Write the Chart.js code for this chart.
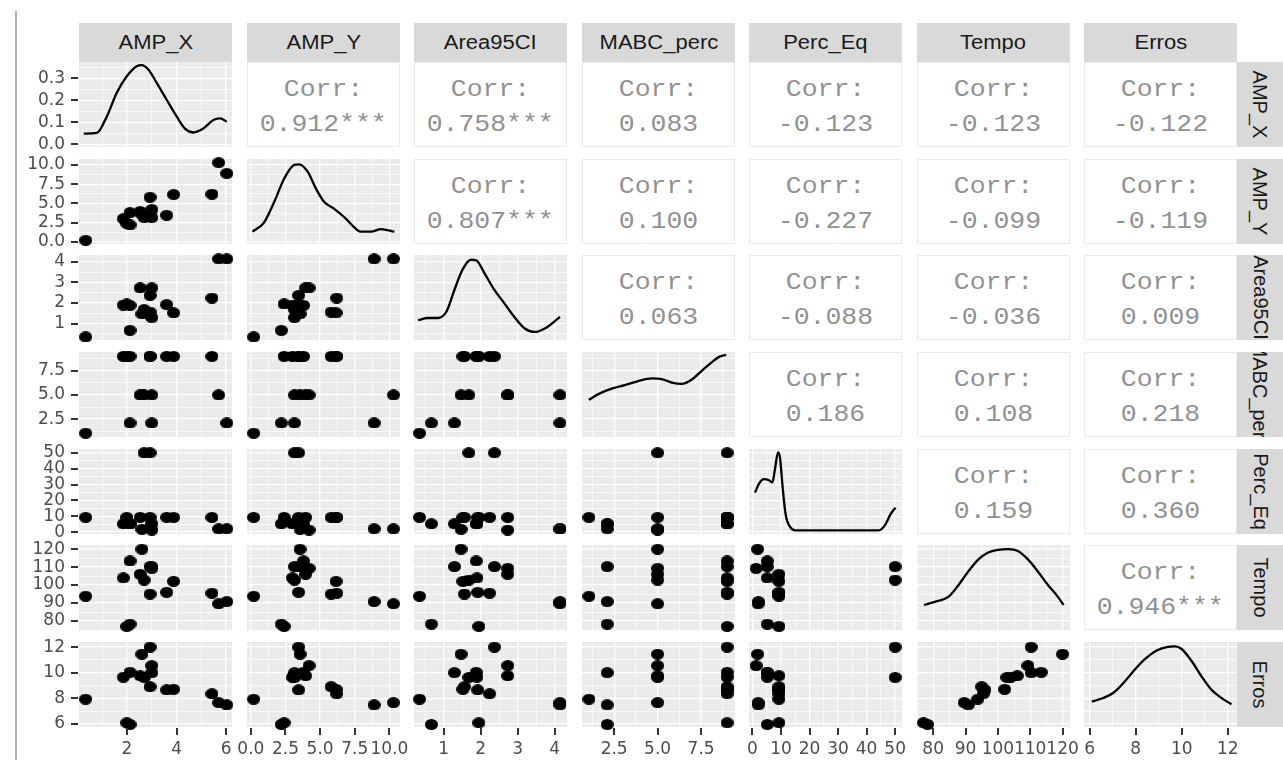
<!DOCTYPE html>
<html>
<head>
<meta charset="utf-8">
<title>ggpairs</title>
<script src="https://cdn.jsdelivr.net/npm/chart.js@4.4.1/dist/chart.umd.min.js"></script>
<style>
  html, body { margin: 0; padding: 0; background: #fff; }
  #wrap { position: relative; width: 1283px; height: 760px; overflow: hidden; }
  canvas { position: absolute; }
  .strip { position: absolute; background: #d9d9d9; color: #1a1a1a; font-family: "Liberation Sans", Arial, sans-serif;
           font-size: 20px; display: flex; align-items: center; justify-content: center; overflow: hidden; white-space: nowrap; }
  .strip span { display: inline-block; transform: scaleX(1.1); }
  .strip.side span { transform: rotate(90deg); }
  .corr { position: absolute; box-sizing: border-box; background: #fff; border: 1px solid #ebebeb; display: flex;
          flex-direction: column; align-items: center; justify-content: center; padding-top: 6px;
          font-family: "Liberation Mono", monospace; font-size: 23px; line-height: 35px; color: #919191; white-space: nowrap; }
  .corr span { display: block; transform: scaleX(1.15); }
  #edge { position: absolute; left: 15px; top: 11px; width: 2px; height: 760px; background: #b4b4b4; }
</style>
</head>
<body>
<div id="wrap"><div id="edge"></div></div>
<script>
const VARS = ["AMP_X", "AMP_Y", "Area95CI", "MABC_perc", "Perc_Eq", "Tempo", "Erros"];

// one value per subject
const AMP_X = [0.33, 2.12, 1.99, 1.85, 2.12, 2.53, 2.60, 2.69, 2.93, 2.93, 3.00, 3.00, 3.60, 3.88, 5.43, 5.70, 6.03];
const AMP_Y = [0.20, 2.20, 2.40, 3.00, 3.80, 3.95, 3.55, 3.15, 5.80, 3.45, 4.20, 3.15, 3.45, 6.15, 6.20, 10.30, 8.90];
const AREA = [0.35, 0.67, 1.95, 1.90, 1.88, 2.73, 1.47, 1.68, 1.56, 2.37, 2.73, 1.29, 1.92, 1.52, 2.24, 4.14, 4.14];
const MABC = [1.05, 2.1, 9.0, 9.0, 9.0, 5.0, 5.0, 5.0, 9.0, 9.0, 5.0, 2.1, 9.0, 9.0, 9.0, 5.0, 2.1];
const PERC = [9.3, 5.2, 9.3, 5.2, 5.2, 9.3, 1.8, 50.0, 9.3, 50.0, 1.3, 5.2, 9.3, 9.3, 9.3, 2.0, 2.1];
const TEMPO = [93.8, 78.3, 77.0, 104.0, 113.4, 106.0, 120.0, 102.8, 95.0, 110.3, 109.3, 110.3, 96.0, 102.1, 95.5, 89.6, 90.8];
const ERROS = [7.93, 5.95, 6.08, 9.65, 10.03, 9.76, 11.45, 9.63, 8.90, 12.00, 10.55, 10.00, 8.65, 8.70, 8.35, 7.66, 7.48];
const COLS = [AMP_X, AMP_Y, AREA, MABC, PERC, TEMPO, ERROS];

// density curves on the diagonal (y in the row's own units, first one in density units)
const D_AMP_X_X = [0.25, 0.78, 1.18, 1.58, 1.99, 2.39, 2.59, 2.86, 3.20, 3.60, 4.01, 4.34, 4.68, 5.08, 5.49, 5.76, 6.03];
const D_AMP_X_Y = [0.049, 0.052, 0.126, 0.234, 0.31, 0.356, 0.361, 0.341, 0.28, 0.203, 0.126, 0.072, 0.054, 0.072, 0.111, 0.118, 0.103];
const D_AMP_Y_X = [0.12, 0.96, 1.68, 2.41, 3.13, 3.49, 4.10, 4.70, 5.30, 6.02, 6.75, 7.47, 7.95, 8.68, 9.40, 10.36];
const D_AMP_Y_Y = [1.32, 2.54, 5.17, 8.24, 10.0, 10.08, 9.12, 6.92, 5.17, 4.29, 3.2, 1.88, 1.32, 1.32, 1.66, 1.32];
const D_AREA_X = [0.31, 0.57, 0.84, 1.07, 1.29, 1.51, 1.74, 1.88, 2.10, 2.37, 2.64, 2.91, 3.19, 3.46, 3.73, 4.14];
const D_AREA_Y = [1.16, 1.27, 1.27, 1.56, 2.63, 3.62, 4.10, 4.07, 3.45, 2.63, 1.98, 1.32, 0.76, 0.59, 0.76, 1.32];
const D_MABC_X = [1.04, 1.65, 2.40, 3.16, 3.92, 4.68, 5.24, 5.81, 6.38, 6.95, 7.52, 8.09, 8.56, 8.94];
const D_MABC_Y = [4.5, 5.14, 5.68, 6.04, 6.47, 6.72, 6.64, 6.29, 6.15, 6.58, 7.47, 8.36, 8.97, 9.15];
const D_PERC_X = [0.91, 2.31, 4.06, 5.8, 6.99, 7.9, 8.95, 9.65, 10.49, 11.64, 13.4, 15.14, 20.98, 32.62, 44.27, 46.61, 48.36, 50.1];
const D_PERC_Y = [24.9, 30.6, 33.4, 32.7, 31.3, 39.7, 50.3, 47.1, 30.2, 11.2, 2.78, 1.08, 1.08, 1.08, 1.08, 4.87, 11.2, 15.4];
const D_TEMPO_X = [77.15, 80.7, 84.8, 87.9, 90.9, 94.0, 97.0, 100.1, 103.2, 106.2, 109.3, 112.3, 115.4, 118.5, 120.3];
const D_TEMPO_Y = [88.9, 90.8, 93.6, 100.2, 107.7, 114.3, 118.1, 119.6, 120.0, 119.0, 114.3, 107.7, 100.2, 93.6, 88.9];
const D_ERROS_X = [6.09, 6.55, 7.05, 7.55, 7.98, 8.41, 8.91, 9.34, 9.70, 9.98, 10.41, 10.84, 11.27, 11.70, 12.16];
const D_ERROS_Y = [7.74, 8.0, 8.45, 9.37, 10.29, 11.08, 11.74, 12.0, 12.05, 11.87, 10.95, 9.76, 8.71, 8.05, 7.53];
const DENS = [[D_AMP_X_X, D_AMP_X_Y], [D_AMP_Y_X, D_AMP_Y_Y], [D_AREA_X, D_AREA_Y], [D_MABC_X, D_MABC_Y],
              [D_PERC_X, D_PERC_Y], [D_TEMPO_X, D_TEMPO_Y], [D_ERROS_X, D_ERROS_Y]];

// upper triangle texts, row by row
const CORR = [
  ["0.912***", "0.758***", "0.083", "-0.123", "-0.123", "-0.122"],
  ["0.807***", "0.100", "-0.227", "-0.099", "-0.119"],
  ["0.063", "-0.088", "-0.036", "0.009"],
  ["0.186", "0.108", "0.218"],
  ["0.159", "0.360"],
  ["0.946***"],
];

// axis ranges and breaks
const LIMITS = [[0.06, 6.24], [-0.28, 10.77], [0.2, 4.33], [0.65, 9.45], [-1.2, 52.4], [75.0, 122.3], [5.75, 12.4]];
const MAJOR = [[2, 4, 6], [0, 2.5, 5, 7.5, 10], [1, 2, 3, 4], [2.5, 5, 7.5], [0, 10, 20, 30, 40, 50],
               [80, 90, 100, 110, 120], [6, 8, 10, 12]];
const MINOR = [[1, 3, 5], [1.25, 3.75, 6.25, 8.75], [0.5, 1.5, 2.5, 3.5], [1.25, 3.75, 6.25, 8.75],
               [5, 15, 25, 35, 45], [75, 85, 95, 105, 115], [7, 9, 11]];
const DECIMALS = [0, 1, 0, 1, 0, 0, 0];
const DENS_LIMITS = [-0.012, 0.375];
const DENS_MAJOR = [0, 0.1, 0.2, 0.3];
const DENS_MINOR = [0.05, 0.15, 0.25, 0.35];

const X0 = 79, DX = 167.5, PW = 153;
const Y0 = 62, DY = 96.67, PH = 85;
const M = 26, AXW = 64, AXH = 40, TICK = 7;

Chart.defaults.animation = false;
Chart.defaults.responsive = false;
Chart.defaults.devicePixelRatio = 1;
Chart.defaults.plugins.legend.display = false;
Chart.defaults.plugins.tooltip.enabled = false;

const wrap = document.getElementById("wrap");
const px = i => Math.round(X0 + i * DX);
const py = i => Math.round(Y0 + i * DY);

const panelBg = {
  id: "panelBg",
  beforeDraw(chart) {
    const a = chart.chartArea, g = chart.ctx;
    g.save();
    g.fillStyle = "#ebebeb";
    g.fillRect(a.left, a.top, a.right - a.left, a.bottom - a.top);
    g.restore();
  }
};

// short dark tick marks outside the panel, on the labelled axes only
const tickMarks = {
  id: "tickMarks",
  afterDraw(chart) {
    const g = chart.ctx, a = chart.chartArea;
    const sx = chart.scales.x, sy = chart.scales.y;
    g.save();
    g.fillStyle = "#333333";
    if (sx.options.ticks.display) {
      sx.ticks.forEach(t => {
        const p = Math.round(sx.getPixelForValue(t.value));
        g.fillRect(p - 1, a.bottom + 1, 2, TICK);
      });
    }
    if (sy.options.ticks.display) {
      sy.ticks.forEach(t => {
        const p = Math.round(sy.getPixelForValue(t.value));
        g.fillRect(a.left - TICK - 1, p - 1, TICK, 2);
      });
    }
    g.restore();
  }
};

function dot(w, h) {
  const c = document.createElement("canvas");
  c.width = w; c.height = h;
  const g = c.getContext("2d");
  g.fillStyle = "#000";
  g.beginPath();
  g.ellipse(w / 2, h / 2, w / 2, h / 2, 0, 0, Math.PI * 2);
  g.fill();
  return c;
}
const DOT = dot(13, 11);

function majorScale(pos, lim, ticks, dec, labelled, size) {
  return {
    type: "linear", position: pos, bounds: "data", min: lim[0], max: lim[1],
    afterBuildTicks: s => { s.ticks = ticks.map(v => ({ value: v })); },
    afterFit: s => { if (pos === "left") s.width = labelled ? size : 0; else s.height = labelled ? size : 0; },
    border: { display: false },
    grid: { color: "#ffffff", lineWidth: 1.3, drawTicks: false },
    ticks: {
      display: labelled, autoSkip: false, maxRotation: 0, minRotation: 0,
      padding: pos === "left" ? TICK + 7 : TICK + 5, color: "#4d4d4d",
      font: { family: "DejaVu Sans", size: 17 },
      callback: v => Number(v).toFixed(dec)
    }
  };
}

function minorScale(pos, lim, ticks) {
  return {
    type: "linear", position: pos, bounds: "data", min: lim[0], max: lim[1],
    afterBuildTicks: s => { s.ticks = ticks.map(v => ({ value: v })); },
    afterFit: s => { if (pos === "left") s.width = 0; else s.height = 0; },
    border: { display: false },
    grid: { color: "#ffffff", lineWidth: 0.7, drawTicks: false },
    ticks: { display: false }
  };
}

function drawPanel(r, c) {
  const left = c === 0 ? AXW : M;
  const bottom = r === 6 ? AXH : M;
  const cv = document.createElement("canvas");
  cv.width = PW + left + M;
  cv.height = PH + M + bottom;
  cv.style.left = (px(c) - left) + "px";
  cv.style.top = (py(r) - M) + "px";
  wrap.appendChild(cv);

  const yDens = r === 0;
  const yLim = yDens ? DENS_LIMITS : LIMITS[r];
  const yMaj = yDens ? DENS_MAJOR : MAJOR[r];
  const yMin = yDens ? DENS_MINOR : MINOR[r];
  const yDec = yDens ? 1 : DECIMALS[r];

  let datasets;
  if (r === c) {
    const [xs, ys] = DENS[c];
    datasets = [{
      data: xs.map((x, i) => ({ x, y: ys[i] })),
      showLine: true, borderColor: "#000", borderWidth: 2.3, pointRadius: 0,
      cubicInterpolationMode: "monotone", fill: false, clip: 3
    }];
  } else {
    datasets = [{
      data: COLS[c].map((x, i) => ({ x, y: COLS[r][i] })),
      pointStyle: DOT, pointRadius: 6, backgroundColor: "#000", borderWidth: 0, clip: 4
    }];
  }

  new Chart(cv, {
    type: "scatter",
    data: { datasets },
    options: {
      layout: { padding: { left: c === 0 ? 0 : M, right: M, top: M, bottom: r === 6 ? 0 : M } },
      scales: {
        x: majorScale("bottom", LIMITS[c], MAJOR[c], DECIMALS[c], r === 6, AXH),
        x2: minorScale("bottom", LIMITS[c], MINOR[c]),
        y: majorScale("left", yLim, yMaj, yDec, c === 0, AXW),
        y2: minorScale("left", yLim, yMin)
      }
    },
    plugins: [panelBg, tickMarks]
  });
}

function addStrip(text, l, t, w, h, side) {
  const d = document.createElement("div");
  d.className = side ? "strip side" : "strip";
  Object.assign(d.style, { left: l + "px", top: t + "px", width: w + "px", height: h + "px" });
  const s = document.createElement("span");
  s.textContent = text;
  d.appendChild(s);
  wrap.appendChild(d);
}

function addCorr(r, c, value) {
  const d = document.createElement("div");
  d.className = "corr";
  Object.assign(d.style, { left: px(c) + "px", top: py(r) + "px", width: PW + "px", height: PH + "px" });
  ["Corr:", value].forEach(t => {
    const s = document.createElement("span");
    s.textContent = t;
    d.appendChild(s);
  });
  wrap.appendChild(d);
}

for (let r = 0; r < 7; r++) {
  for (let c = r + 1; c < 7; c++) addCorr(r, c, CORR[r][c - r - 1]);
}
VARS.forEach((v, i) => {
  addStrip(v, px(i), 23, PW, 39, false);
  addStrip(v, 1237, py(i), 46, PH, true);
});
for (let r = 0; r < 7; r++) {
  for (let c = 0; c <= r; c++) drawPanel(r, c);
}
</script>
</body>
</html>
